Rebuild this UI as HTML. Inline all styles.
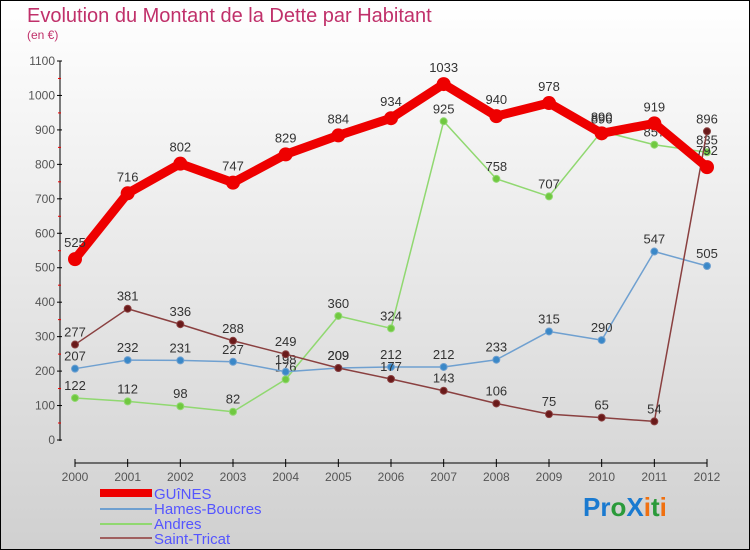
<!DOCTYPE html>
<html><head><meta charset="utf-8"><style>
body{margin:0;width:750px;height:550px;overflow:hidden;font-family:"Liberation Sans",sans-serif}
#c{position:absolute;left:0;top:0;width:748px;height:548px;border:1px solid #000;background:linear-gradient(#fff,#d0d0d0)}
</style></head><body>
<div id="c">
<svg id="s" width="750" height="550" style="position:absolute;left:-1px;top:-1px">
<text x="27" y="22" font-size="20" fill="#c0306a">Evolution du Montant de la Dette par Habitant</text>
<text x="27" y="39" font-size="12" fill="#c0306a">(en €)</text>
<g id="axes"></g><g id="plot"></g>
<g font-size="15" fill="#5555ff">
<rect x="100" y="489" width="52" height="8" fill="#e00"/>
<text x="154" y="499">GUîNES</text>
<line x1="100" y1="509" x2="152" y2="509" stroke="#6fa0d0" stroke-width="2"/>
<text x="154" y="514">Hames-Boucres</text>
<line x1="100" y1="524" x2="152" y2="524" stroke="#90d870" stroke-width="2"/>
<text x="154" y="529">Andres</text>
<line x1="100" y1="538" x2="152" y2="538" stroke="#a06060" stroke-width="2"/>
<text x="154" y="544">Saint-Tricat</text>
</g>
<text x="583" y="516" font-size="26" font-weight="bold"><tspan fill="#1a7ad0">Pr</tspan><tspan fill="#2a9a3a">o</tspan><tspan fill="#1a7ad0">X</tspan><tspan fill="#f07010">i</tspan><tspan fill="#2a9a3a">t</tspan><tspan fill="#f07010">i</tspan></text>
</svg></div>
<script>
const years=[2000,2001,2002,2003,2004,2005,2006,2007,2008,2009,2010,2011,2012];
const yTicks=[0,100,200,300,400,500,600,700,800,900,1000,1100];
const guines=[525,716,802,747,829,884,934,1033,940,978,890,919,792];
const hames=[207,232,231,227,198,209,212,212,233,315,290,547,505];
const andres=[122,112,98,82,176,360,324,925,758,707,896,857,835];
const tricat=[277,381,336,288,249,209,177,143,106,75,65,54,896];
const NS="http://www.w3.org/2000/svg";
const X=i=>75+i*(707-75)/12, Y=v=>440-v*(440-61)/1100;
function mk(t,a,p){const e=document.createElementNS(NS,t);for(const k in a)e.setAttribute(k,a[k]);p.appendChild(e);return e;}
const ax=document.getElementById('axes'),pl=document.getElementById('plot');
let l=mk('line',{x1:60,y1:61,x2:60,y2:441,stroke:'#000'},ax);


yTicks.forEach(v=>{const y=Y(v);
mk('line',{x1:57,y1:y,x2:62,y2:y,stroke:'#000'},ax);
if(v<1100)mk('line',{x1:58,y1:y-17,x2:61,y2:y-17,stroke:'#e00'},ax);
const t=mk('text',{x:55,y:y+4,'text-anchor':'end','font-size':12,fill:'#555'},ax);t.textContent=v;

});
l=mk('line',{x1:75,y1:463,x2:707,y2:463,stroke:'#000'},ax);


years.forEach((yr,i)=>{mk('line',{x1:X(i),y1:459,x2:X(i),y2:467,stroke:'#000'},ax);
const t=mk('text',{x:X(i),y:481,'text-anchor':'middle','font-size':12,fill:'#555'},ax);t.textContent=yr;

});
function series(d,col,dot,w,r,name){
const g=mk('g',{},pl);


mk('polyline',{points:d.map((v,i)=>X(i)+','+Y(v)).join(' '),fill:'none',stroke:col,'stroke-width':w,'stroke-linejoin':'round'},g);
d.forEach((v,i)=>{const c=mk('circle',{cx:X(i),cy:Y(v),r:r,fill:dot,stroke:col,'stroke-width':r>5?0:1},g);


const t=mk('text',{x:X(i),y:Y(v)-(r>5?12:8),'text-anchor':'middle','font-size':13,fill:'#333'},g);t.textContent=v;

});}
series(andres,'#90d870','#70c840',1.5,3.5,'andres');
series(hames,'#6fa0d0','#3a88c8',1.5,3.5,'hames');
series(tricat,'#8a4040','#6a1a1a',1.5,3.5,'saint-tricat');
series(guines,'#e00','#e00',9,7,'guines');
</script></body></html>
